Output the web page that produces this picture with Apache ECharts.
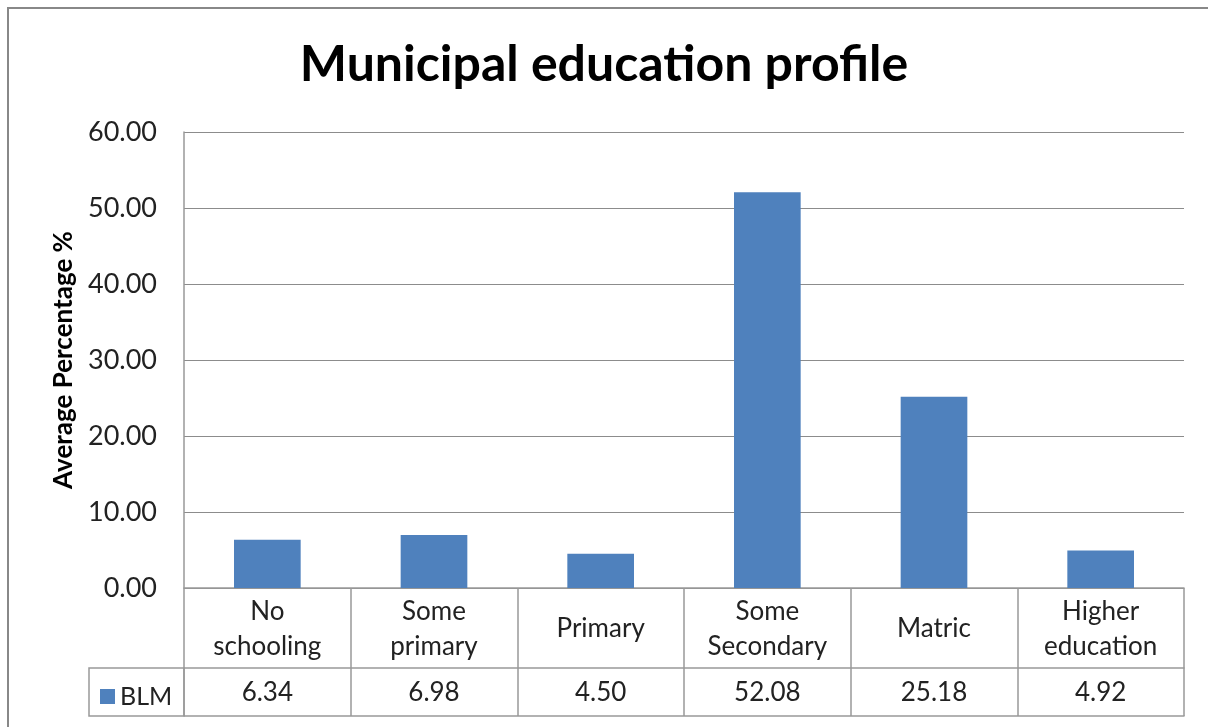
<!DOCTYPE html>
<html>
<head>
<meta charset="utf-8">
<style>html,body{margin:0;padding:0;background:#fff;}#c{width:1208px;height:727px;}</style>
<script src="https://cdn.jsdelivr.net/npm/echarts@6/dist/echarts.min.js"></script>
</head>
<body>
<div id="c"></div>
<script>
const titleText = 'Municipal education profile';
const categories = ['No\nschooling', 'Some\nprimary', 'Primary', 'Some\nSecondary', 'Matric', 'Higher\neducation'];
const seriesName = 'BLM';
const values = [6.34, 6.98, 4.50, 52.08, 25.18, 4.92];
const yTicks = [0, 10, 20, 30, 40, 50, 60];
const yAxisName = 'Average Percentage %';

const FONT = 'Lato';
const BAR = '#4F81BD';
const LINE = '#999999';

const chart = echarts.init(document.getElementById('c'), null, {renderer: 'canvas'});
chart.setOption({
  backgroundColor: '#fff',
  animation: false,
  title: {
    text: titleText, left: 'center', top: 35,
    textStyle: {fontFamily: FONT, fontWeight: 'bold', fontSize: 50, color: '#000'}
  },
  legend: {
    data: [seriesName], left: 95, top: 679, itemWidth: 15, itemHeight: 15, itemGap: 7,
    icon: 'rect', textStyle: {fontFamily: FONT, fontSize: 25, color: '#222'}, selectedMode: false
  },
  grid: {left: 184, right: 24, top: 132, bottom: 139, containLabel: false},
  xAxis: [
    {
      type: 'category', data: categories, position: 'bottom',
      axisLine: {show: true, lineStyle: {color: LINE, width: 1.5}},
      axisTick: {show: true, length: 128, lineStyle: {color: LINE, width: 1.5}},
      axisLabel: {margin: 41, verticalAlign: 'middle', lineHeight: 35, fontFamily: FONT, fontSize: 26, color: '#222', interval: 0}
    },
    {
      type: 'category', data: values.map(v => v.toFixed(2)), position: 'bottom', offset: 80,
      axisLine: {show: true, lineStyle: {color: LINE, width: 1.5}},
      axisTick: {show: false},
      axisLabel: {margin: 25, verticalAlign: 'middle', fontFamily: FONT, fontSize: 26, color: '#222', interval: 0}
    },
    {
      type: 'category', data: values.map(() => ''), position: 'bottom', offset: 128,
      axisLine: {show: true, lineStyle: {color: LINE, width: 1.5}},
      axisTick: {show: false}, axisLabel: {show: false}
    }
  ],
  yAxis: {
    type: 'value', min: yTicks[0], max: yTicks[yTicks.length - 1], interval: 10,
    name: yAxisName, nameLocation: 'middle', nameGap: 105, nameRotate: 90,
    nameTextStyle: {fontFamily: FONT, fontWeight: 'bold', fontSize: 26, color: '#000'},
    axisLine: {show: true, lineStyle: {color: LINE, width: 1.5}},
    axisTick: {show: false},
    axisLabel: {margin: 27, fontFamily: FONT, fontSize: 27, color: '#222', formatter: v => v.toFixed(2)},
    splitLine: {show: true, lineStyle: {color: '#8c8c8c', width: 1}}
  },
  series: [{
    name: seriesName, type: 'bar', data: values, barWidth: '40%', xAxisIndex: 0,
    itemStyle: {color: BAR}
  }],
  graphic: [
    {type: 'rect', shape: {x: 8, y: 8, width: 1300, height: 800}, style: {fill: 'none', stroke: '#888', lineWidth: 2}, z: -1},
    {type: 'rect', shape: {x: 89, y: 668, width: 95, height: 48}, style: {fill: 'none', stroke: LINE, lineWidth: 1.5}, z: -1}
  ]
});
</script>
</body>
</html>
